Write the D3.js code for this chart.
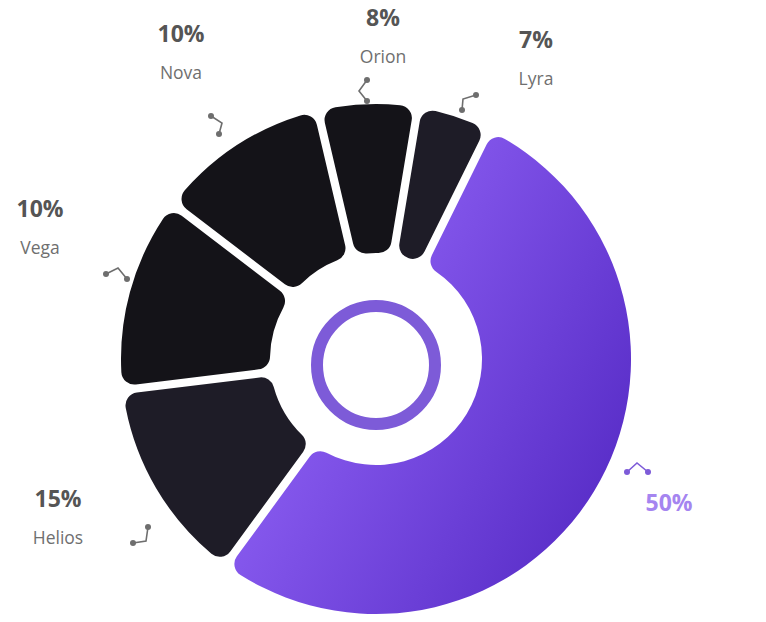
<!DOCTYPE html>
<html>
<head>
<meta charset="utf-8">
<script src="https://cdn.jsdelivr.net/npm/d3@7"></script>
<style>
  html, body { margin: 0; padding: 0; background: #ffffff; }
  svg { display: block; }
</style>
</head>
<body>
<svg id="chart" width="766" height="622"></svg>
<script>
// ---- data ----
const names = ["", "Helios", "Vega", "Nova", "Orion", "Lyra"];
const percentValues = [50, 15, 10, 10, 8, 7];            // printed labels
const arcShares = [53.9, 12.9, 12.2, 10.78, 5.97, 4.3];  // slice sizes as drawn in the picture
const percentLabels = ["50%", "15%", "10%", "10%", "8%", "7%"];

// ---- layout / style ----
const W = 766, H = 622;
const cx = 376, cy = 359;
const outerR = 255, innerR = 106;
const startDeg = 26.3;
const fills = ["url(#purpleGrad)", "#1e1c27", "#141318", "#141318", "#141318", "#1e1c27"];
// label anchor (x of text center, baseline of percent)
const labelPos = [
  [669, 511], [58, 507], [40, 217], [181, 42], [383, 26], [536, 48]
];
// connector polylines
const connectors = [
  [[627, 472], [637, 463], [648, 472]],
  [[148, 527], [146, 541], [133, 543]],
  [[106, 274], [118, 268], [127, 279]],
  [[211, 116], [222, 123], [219, 134]],
  [[367, 80], [359, 91], [367, 101]],
  [[476, 95], [463, 99], [462, 110]]
];

const svg = d3.select("#chart");
const defs = svg.append("defs");
const grad = defs.append("linearGradient")
  .attr("id", "purpleGrad")
  .attr("gradientUnits", "userSpaceOnUse")
  .attr("x1", -140).attr("y1", -40).attr("x2", 264).attr("y2", 170);
grad.append("stop").attr("offset", "0%").attr("stop-color", "#9466f9");
grad.append("stop").attr("offset", "100%").attr("stop-color", "#5328c3");

const pie = d3.pie()
  .sort(null)
  .value(d => d)
  .startAngle(startDeg * Math.PI / 180)
  .endAngle(startDeg * Math.PI / 180 + 2 * Math.PI)
  .padAngle(0.032);

const arc = d3.arc()
  .innerRadius(innerR)
  .outerRadius(outerR)
  .padRadius(outerR)
  .cornerRadius(13);

const g = svg.append("g").attr("transform", `translate(${cx},${cy})`);
g.selectAll("path.slice")
  .data(pie(arcShares))
  .join("path")
  .attr("class", "slice")
  .attr("d", arc)
  .attr("fill", (d, i) => fills[i]);

// inner ring
svg.append("circle")
  .attr("cx", cx).attr("cy", 365)
  .attr("r", 59)
  .attr("fill", "none")
  .attr("stroke", "#7d5bd8")
  .attr("stroke-width", 12);

// connectors
const line = d3.line();
connectors.forEach((pts, i) => {
  const col = i === 0 ? "#7d5bd8" : "#6e6e6e";
  svg.append("path").attr("d", line(pts))
    .attr("fill", "none").attr("stroke", col).attr("stroke-width", 1.6);
  [pts[0], pts[pts.length - 1]].forEach(p => {
    svg.append("circle").attr("cx", p[0]).attr("cy", p[1]).attr("r", 3).attr("fill", col);
  });
});

// labels
const font = "'Open Sans', 'Noto Sans', sans-serif";
labelPos.forEach((p, i) => {
  svg.append("text")
    .attr("x", p[0]).attr("y", p[1])
    .attr("text-anchor", "middle")
    .attr("font-family", font)
    .attr("font-weight", 700)
    .attr("font-size", 23)
    .attr("fill", i === 0 ? "#a585f0" : "#555555")
    .text(percentValues[i] + "%");
  if (names[i]) {
    svg.append("text")
      .attr("x", p[0]).attr("y", p[1] + 37)
      .attr("text-anchor", "middle")
      .attr("font-family", font)
      .attr("font-size", 17.5)
      .attr("fill", "#6f6f6f")
      .text(names[i]);
  }
});
</script>
</body>
</html>
